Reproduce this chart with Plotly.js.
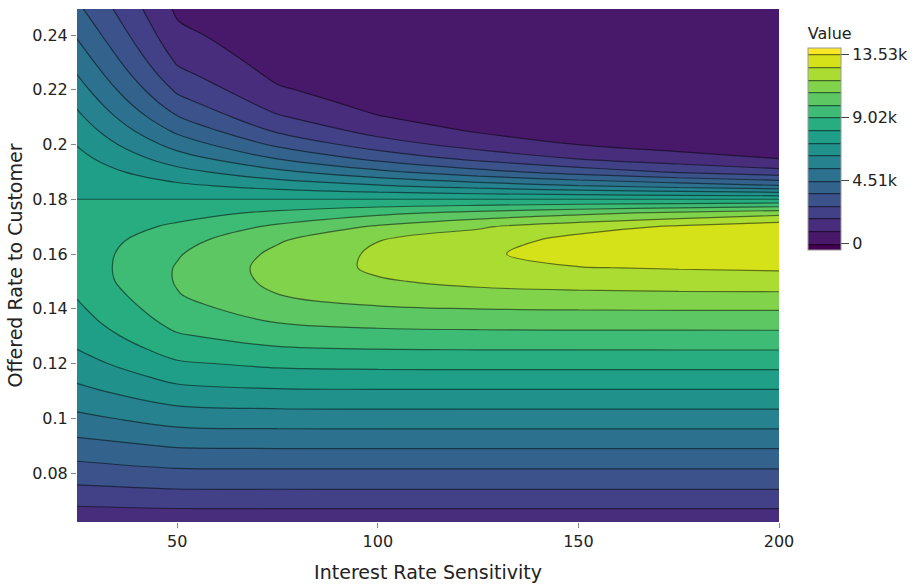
<!DOCTYPE html>
<html>
<head>
<meta charset="utf-8">
<script src="https://cdn.plot.ly/plotly-3.0.1.min.js"></script>
<style>html,body{margin:0;padding:0;background:#fff;}#chart{width:920px;height:585px;}</style>
</head>
<body>
<div id="chart"></div>
<script>
// Interest rate sensitivity (x) and offered rate (y)
const sensitivity = [25, 50, 75, 100, 125, 150, 175, 200];
const offeredRate = [0.06, 0.065, 0.07, 0.075, 0.08, 0.085, 0.09, 0.095, 0.10, 0.105,
  0.11, 0.115, 0.12, 0.125, 0.13, 0.135, 0.14, 0.145, 0.15, 0.155,
  0.16, 0.165, 0.17, 0.175, 0.18, 0.185, 0.19, 0.195, 0.20, 0.205,
  0.21, 0.215, 0.22, 0.225, 0.23, 0.235, 0.24, 0.245, 0.25];
// Value, one row per offered rate, one column per sensitivity
const value = [
  [868.6, 909.5, 911.7, 911.8, 911.8, 911.8, 911.8, 911.8],
  [1467.5, 1545.4, 1550.0, 1550.3, 1550.3, 1550.3, 1550.3, 1550.3],
  [2057.3, 2179.9, 2188.2, 2188.8, 2188.8, 2188.8, 2188.8, 2188.8],
  [2636.3, 2812.5, 2826.2, 2827.2, 2827.3, 2827.3, 2827.3, 2827.3],
  [3170.9, 3408.2, 3429.3, 3430.9, 3431.1, 3431.1, 3431.1, 3431.1],
  [3679.9, 3987.7, 4019.0, 4021.9, 4022.2, 4022.2, 4022.2, 4022.2],
  [4204.8, 4596.9, 4642.6, 4647.4, 4647.8, 4647.9, 4647.9, 4647.9],
  [4711.1, 5199.5, 5264.8, 5272.6, 5273.6, 5273.7, 5273.7, 5273.7],
  [5196.2, 5793.3, 5884.8, 5897.4, 5899.1, 5899.4, 5899.4, 5899.4],
  [5657.5, 6375.2, 6501.7, 6521.5, 6524.5, 6525.0, 6525.1, 6525.1],
  [6092.2, 6941.2, 7113.5, 7144.4, 7149.7, 7150.7, 7150.9, 7150.9],
  [6497.2, 7486.3, 7717.7, 7764.9, 7774.3, 7776.1, 7776.5, 7776.6],
  [6869.5, 8003.8, 8310.0, 8381.5, 8397.7, 8401.2, 8402.1, 8402.3],
  [7206.1, 8485.5, 8884.4, 8991.3, 9018.7, 9025.7, 9027.5, 9027.9],
  [7503.9, 8921.5, 9431.9, 9589.2, 9635.2, 9648.5, 9652.2, 9653.4],
  [7760.2, 9299.3, 9939.4, 10166.5, 10242.6, 10267.5, 10275.6, 10278.2],
  [7972.4, 9605.4, 10388.0, 10709.0, 10832.3, 10878.3, 10895.3, 10901.6],
  [8179.8, 9873.9, 10806.9, 11250.1, 11445.7, 11529.3, 11564.5, 11579.3],
  [8425.1, 9989.7, 11053.7, 11639.2, 11937.9, 12084.5, 12154.9, 12188.6],
  [8495.8, 9986.5, 11139.4, 11873.0, 12306.9, 12600.0, 12688.0, 12761.7],
  [8516.4, 9852.3, 11018.0, 11870.2, 12500.0, 12950.0, 13180.0, 13330.0],
  [8487.2, 9580.2, 10729.6, 11707.9, 12137.0, 12954.8, 13353.0, 13500.0],
  [8409.5, 9171.5, 10083.5, 10935.8, 11627.5, 12229.7, 12744.1, 13175.7],
  [8285.5, 8680.8, 9197.9, 9708.7, 10159.3, 10593.4, 11008.3, 11402.6],
  [8117.9, 8117.9, 8117.9, 8117.9, 8117.9, 8117.9, 8117.9, 8117.9],
  [8005.4, 7387.9, 6873.4, 6370.7, 5883.2, 5413.6, 4964.8, 4538.2],
  [7759.5, 6611.8, 5618.4, 4709.9, 3900.1, 3194.9, 2592.8, 2087.5],
  [7482.3, 5823.3, 4448.5, 3311.3, 2413.4, 1730.7, 1226.1, 860.9],
  [7179.0, 5053.3, 3427.8, 2239.7, 1425.4, 891.2, 550.7, 338.0],
  [6855.0, 4326.7, 2583.2, 1473.8, 817.7, 446.5, 241.5, 130.0],
  [6515.1, 3660.8, 1913.4, 951.8, 461.1, 220.5, 104.7, 49.6],
  [6165.0, 3065.4, 1398.6, 606.9, 257.4, 108.1, 45.1, 18.9],
  [5809.1, 2544.2, 1012.3, 384.0, 142.8, 52.7, 19.4, 7.2],
  [5452.0, 2096.0, 727.4, 241.6, 78.9, 25.7, 8.4, 2.7],
  [5098.2, 1716.0, 519.8, 151.3, 43.7, 12.5, 3.6, 1.0],
  [4750.2, 1397.7, 370.1, 94.7, 24.0, 6.1, 1.5, 0.4],
  [4412.0, 1133.5, 262.6, 59.0, 13.2, 2.9, 0.7, 0.1],
  [4085.1, 915.9, 186.0, 36.8, 7.3, 1.4, 0.3, 0.1],
  [3771.8, 737.9, 131.4, 22.9, 4.0, 0.7, 0.1, 0.0]
];
const cbTickVals = [0, 4510, 9020, 13530];
const cbTickText = ['0', '4.51k', '9.02k', '13.53k'];

const font = "'DejaVu Sans', Verdana, sans-serif";
Plotly.newPlot('chart', [{
  type: 'contour',
  x: sensitivity,
  y: offeredRate,
  z: value,
  colorscale: 'Viridis',
  autocontour: false,
  contours: {start: 0, end: 13530, size: 902, coloring: 'fill'},
  line: {width: 1.2, color: 'rgba(0,0,0,0.5)', smoothing: 1},
  colorbar: {
    title: {text: 'Value', side: 'top', font: {family: font, size: 16, color: '#222'}},
    tickvals: cbTickVals, ticktext: cbTickText,
    ticks: 'outside', ticklen: 8, tickcolor: '#444',
    tickfont: {family: font, size: 16, color: '#222'},
    thickness: 33, len: 0.48, y: 0.99, yanchor: 'top', x: 1.036, xpad: 4,
    outlinewidth: 1, outlinecolor: '#999'
  }
}], {
  width: 920, height: 585,
  margin: {l: 77, r: 141, t: 9, b: 63, autoexpand: false},
  paper_bgcolor: '#fff', plot_bgcolor: '#fff',
  font: {family: font, size: 16, color: '#222'},
  xaxis: {
    title: {text: 'Interest Rate Sensitivity', font: {family: font, size: 19, color: '#222'}, standoff: 15},
    range: [25, 200], tickvals: [50, 100, 150, 200],
    ticks: 'outside', ticklen: 5, tickcolor: '#888', showgrid: false, zeroline: false,
    tickfont: {family: font, size: 16, color: '#222'}
  },
  yaxis: {
    title: {text: 'Offered Rate to Customer', font: {family: font, size: 19, color: '#222'}, standoff: 4},
    range: [0.0621, 0.2495], tickvals: [0.08, 0.1, 0.12, 0.14, 0.16, 0.18, 0.2, 0.22, 0.24],
    ticks: 'outside', ticklen: 5, tickcolor: '#888', showgrid: false, zeroline: false,
    tickfont: {family: font, size: 16, color: '#222'}
  }
}, {displayModeBar: false});
</script>
</body>
</html>
